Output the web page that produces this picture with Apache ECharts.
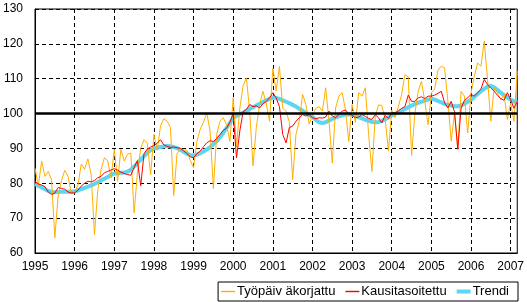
<!DOCTYPE html>
<html>
<head>
<meta charset="utf-8">
<script src="https://cdn.jsdelivr.net/npm/echarts@6/dist/echarts.min.js"></script>
<style>
html,body{margin:0;padding:0;background:#fff;}
#c{width:527px;height:302px;}
</style>
</head>
<body>
<div id="c"></div>
<script>
// Tick labels (years) and month count
const yearLabels = ['1995','1996','1997','1998','1999','2000','2001','2002','2003','2004','2005','2006','2007'];
const monthsInLastYear = 3;

// Työpäiv äkorjattu (working-day adjusted), monthly 1995-01 .. 2007-03
const tyopaiv = [
  84.3, 79.2, 86.4, 82.0, 83.4, 81.0, 64.4, 76.4, 80.7, 83.7, 82.0, 77.0,
  77.5, 79.5, 85.5, 84.0, 87.0, 82.5, 65.3, 78.0, 84.0, 87.3, 86.5, 81.5,
  89.7, 80.6, 89.7, 86.4, 88.3, 88.7, 71.5, 83.0, 90.0, 92.5, 91.5, 82.5,
  94.0, 89.5, 96.5, 98.5, 97.8, 96.0, 76.5, 88.5, 90.0, 89.5, 89.5, 86.5,
  84.5, 92.0, 95.5, 97.5, 100.2, 95.0, 78.5, 94.0, 97.8, 98.8, 96.8, 92.0,
  104.6, 90.5, 101.5, 108.0, 110.2, 100.5, 85.0, 96.0, 102.6, 106.4, 103.0, 97.8,
  113.0, 106.5, 113.5, 101.5, 100.7, 97.5, 81.0, 94.0, 97.8, 105.5, 102.6, 97.0,
  99.5, 101.5, 102.0, 100.7, 107.4, 97.8, 85.8, 101.6, 105.0, 106.0, 101.0, 92.0,
  102.6, 97.5, 106.0, 105.0, 107.4, 94.0, 83.4, 99.0, 102.5, 102.3, 98.5, 89.2,
  101.0, 98.8, 102.0, 105.5, 111.2, 110.5, 88.0, 100.0, 106.4, 109.3, 103.5, 96.8,
  106.0, 107.0, 112.5, 113.6, 113.1, 103.5, 92.1, 100.2, 89.7, 106.4, 105.0, 94.4,
  106.0, 110.7, 114.5, 113.6, 120.8, 109.8, 97.8, 107.4, 106.0, 104.0, 105.5, 98.3,
  103.0, 97.8, 112.2
];

// Kausitasoitettu (seasonally adjusted)
const kausi = [
  80.5, 79.8, 79.5, 79.0, 77.5, 76.8, 77.2, 78.8, 78.5, 78.3, 77.5, 77.2,
  77.3, 78.0, 79.2, 80.0, 80.6, 80.4, 80.8, 81.6, 82.0, 83.0, 83.4, 83.8,
  84.2, 83.8, 83.2, 82.8, 82.5, 82.3, 84.5, 86.5, 79.3, 88.5, 89.8, 90.4,
  90.8, 91.5, 92.5, 91.0, 90.6, 90.3, 90.4, 90.2, 90.0, 89.3, 88.5, 87.6,
  87.3, 88.5, 89.2, 90.5, 91.6, 92.2, 92.0, 92.8, 94.0, 95.2, 95.8, 97.5,
  100.0, 87.3, 95.0, 100.5, 101.2, 102.6, 102.0, 102.2, 101.6, 102.8, 103.5, 104.5,
  106.0, 104.5, 102.0, 94.0, 91.6, 96.0, 96.4, 97.8, 98.8, 99.7, 99.3, 99.7,
  98.8, 98.5, 98.8, 98.7, 99.0, 100.7, 99.3, 98.8, 99.8, 100.7, 101.0, 100.0,
  99.5, 98.8, 99.0, 99.7, 99.2, 98.6, 98.3, 99.7, 98.8, 97.3, 99.5, 98.6,
  100.2, 100.2, 100.8, 101.5, 102.0, 105.3, 103.5, 103.5, 104.5, 104.8, 104.3, 105.0,
  105.0, 105.3, 105.8, 106.4, 103.1, 101.6, 103.5, 100.5, 89.8, 101.5, 103.8, 104.5,
  105.5, 105.0, 106.0, 107.0, 109.8, 108.3, 107.3, 106.5, 105.2, 104.3, 103.8, 106.0,
  104.0, 101.5, 103.5
];

// Trendi (trend)
const trendi = [
  79.8, 79.3, 78.8, 78.3, 77.8, 77.5, 77.4, 77.5, 77.6, 77.6, 77.6, 77.6,
  77.7, 78.0, 78.3, 78.7, 79.0, 79.4, 79.8, 80.3, 80.8, 81.3, 81.8, 82.4,
  82.8, 82.9, 83.0, 83.1, 83.3, 83.9, 84.8, 85.8, 86.8, 87.8, 88.8, 89.5,
  90.0, 90.2, 90.4, 90.6, 90.7, 90.6, 90.4, 90.1, 89.6, 89.0, 88.5, 88.1,
  88.0, 88.2, 88.6, 89.1, 89.7, 90.4, 91.2, 92.1, 93.2, 94.5, 95.9, 97.3,
  98.8, 99.3, 99.8, 100.3, 100.8, 101.3, 101.8, 102.3, 102.8, 103.3, 103.8, 104.2,
  104.6, 104.5, 104.2, 103.8, 103.4, 103.0, 102.5, 102.0, 101.4, 100.8, 100.2, 99.6,
  99.0, 98.2, 97.5, 97.3, 97.5, 98.0, 98.5, 98.9, 99.2, 99.5, 99.7, 99.8,
  99.7, 99.4, 99.0, 98.6, 98.2, 97.9, 97.6, 97.5, 97.6, 97.9, 98.4, 98.9,
  99.5, 99.9, 100.3, 100.8, 101.3, 101.8, 102.3, 102.7, 103.1, 103.4, 103.7, 104.0,
  104.3, 104.0, 103.6, 103.2, 102.8, 102.5, 102.3, 102.1, 102.1, 102.3, 102.8, 103.4,
  104.0, 104.8, 105.6, 106.4, 107.1, 107.7, 108.0, 107.5, 106.8, 106.0, 105.3, 104.6,
  104.0, 103.5, 103.1
];

const baseLevel = 100;
const seriesNames = ['Työpäiv äkorjattu', 'Kausitasoitettu', 'Trendi'];

// monthly categories
const categories = [];
yearLabels.forEach(function (y, i) {
  const n = (i === yearLabels.length - 1) ? monthsInLastYear : 12;
  for (let m = 1; m <= n; m++) categories.push(y + '-' + (m < 10 ? '0' + m : m));
});

const chart = echarts.init(document.getElementById('c'), null, {renderer: 'canvas'});
const FONT = '"Liberation Sans", Arial, sans-serif';
const yearTick = function (idx) { return idx % 12 === 0; };
const thinIcon = 'path://M0,0H14V1.4H0Z';
const thickIcon = 'path://M0,0H14V4H0Z';

chart.setOption({
  animation: false,
  backgroundColor: '#fff',
  textStyle: {fontFamily: FONT},
  grid: {left: 35, right: 9, top: 9, bottom: 49, show: true, borderColor: '#000', borderWidth: 1, backgroundColor: 'transparent'},
  legend: {
    data: [
      {name: seriesNames[0], icon: thinIcon},
      {name: seriesNames[1], icon: thinIcon},
      {name: seriesNames[2], icon: thickIcon}
    ],
    right: 9, top: 282,
    orient: 'horizontal',
    itemWidth: 14, itemHeight: 13, itemGap: 10,
    symbolKeepAspect: true,
    padding: [3, 9, 3, 3],
    borderColor: '#000', borderWidth: 1, backgroundColor: '#fff',
    itemStyle: {borderWidth: 0},
    textStyle: {fontFamily: FONT, fontSize: 13, color: '#000', padding: [0, 0, 0, -3]}
  },
  xAxis: {
    type: 'category',
    data: categories,
    boundaryGap: false,
    axisLine: {show: true, lineStyle: {color: '#000', width: 1}},
    axisTick: {show: false},
    axisLabel: {
      interval: yearTick,
      formatter: function (v) { return v.slice(0, 4); },
      color: '#000', fontSize: 12, fontFamily: FONT, margin: 8
    },
    splitLine: {show: true, interval: yearTick, lineStyle: {color: '#000', type: [4, 3], width: 1}}
  },
  yAxis: {
    type: 'value',
    min: 60, max: 130, interval: 10,
    axisLine: {show: true, lineStyle: {color: '#000', width: 1}},
    axisTick: {show: false},
    axisLabel: {color: '#000', fontSize: 12, fontFamily: FONT, margin: 12},
    splitLine: {show: true, lineStyle: {color: '#000', type: [4, 3], width: 1}}
  },
  series: [
    {
      name: seriesNames[2], type: 'line', data: trendi, symbol: 'none', z: 2,
      lineStyle: {color: '#5CD6F2', width: 4}, itemStyle: {color: '#5CD6F2'}
    },
    {
      name: seriesNames[0], type: 'line', data: tyopaiv, symbol: 'none', z: 3,
      lineStyle: {color: '#FFB000', width: 1}, itemStyle: {color: '#FFB000'}
    },
    {
      name: seriesNames[1], type: 'line', data: kausi, symbol: 'none', z: 4,
      lineStyle: {color: '#FF0000', width: 1}, itemStyle: {color: '#FF0000'},
      markLine: {
        silent: true, symbol: 'none', label: {show: false},
        lineStyle: {color: '#000', width: 2.5, type: 'solid'},
        data: [{yAxis: baseLevel}]
      }
    }
  ]
});
</script>
</body>
</html>
